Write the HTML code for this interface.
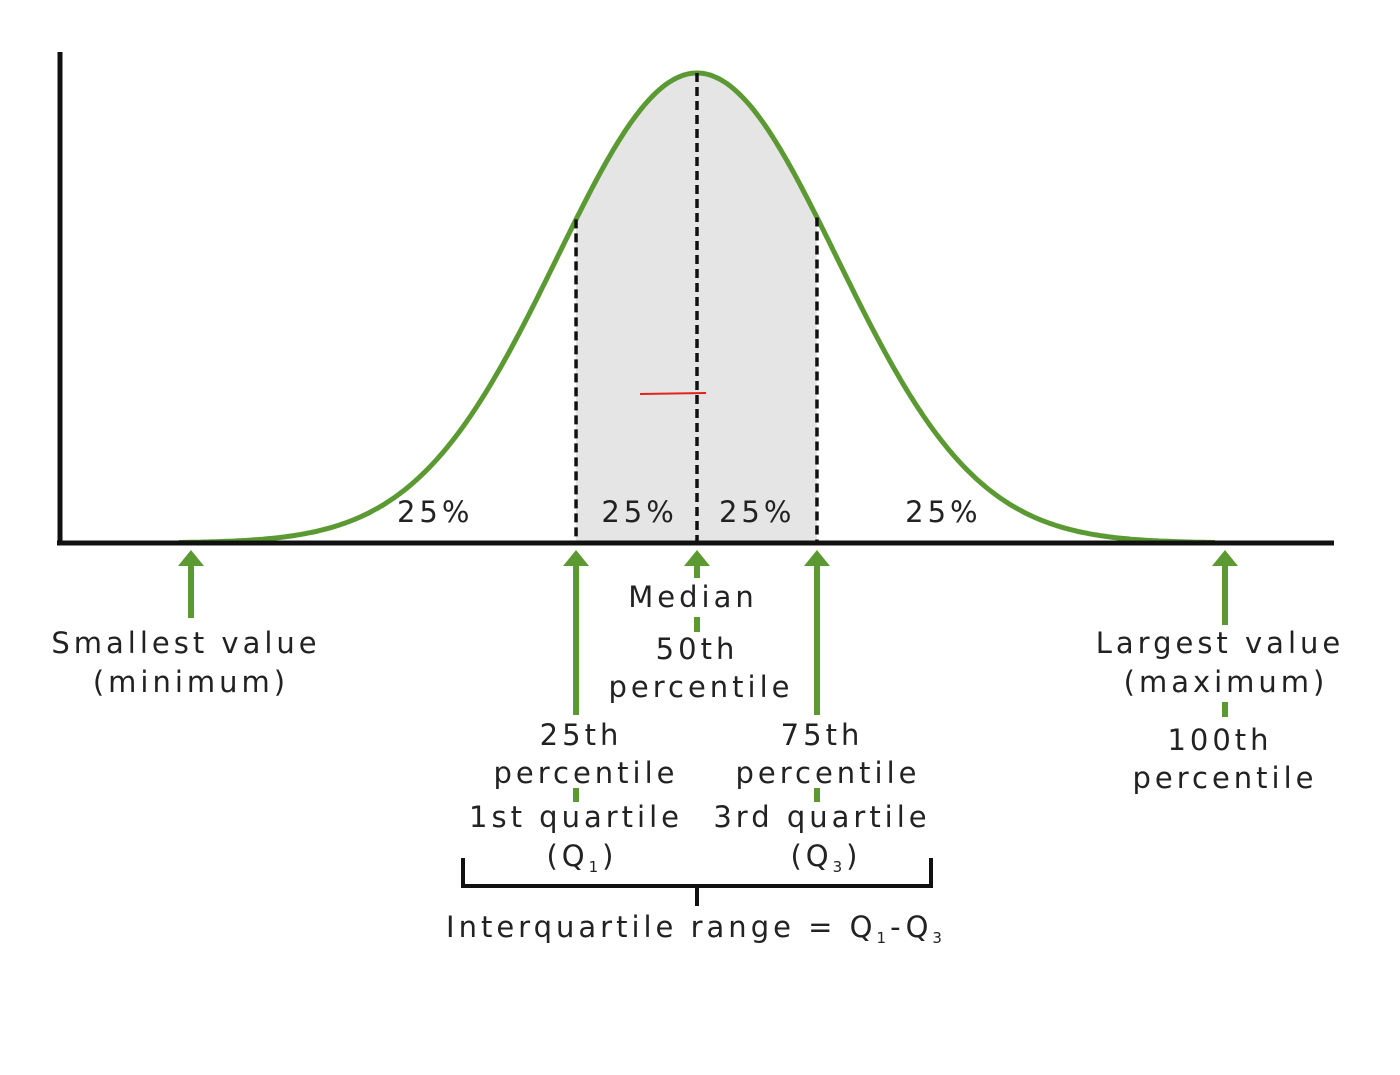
<!DOCTYPE html>
<html><head><meta charset="utf-8"><style>
body{margin:0;background:#fff}
svg text{font-family:"DejaVu Sans","Liberation Sans",sans-serif;font-size:29px;fill:#222;letter-spacing:4px;text-anchor:middle}
</style></head><body>
<svg id="chart" width="1400" height="1070" viewBox="0 0 1400 1070">
<g id="area"></g>
<g id="curve"></g>
<g id="dashes"></g>
<line x1="60" y1="52" x2="60" y2="545" stroke="#111" stroke-width="5"/>
<line x1="57" y1="543" x2="1334" y2="543" stroke="#111" stroke-width="5"/>
<line x1="640" y1="394" x2="706" y2="393" stroke="#e0241b" stroke-width="2"/>
<g id="arrows"></g>
<g id="labels"></g>
<g stroke="#111" stroke-width="4" fill="none">
<polyline points="463,858 463,886 931,886 931,858"/>
<line x1="697" y1="886" x2="697" y2="906"/>
</g>
<text x="696" y="937">Interquartile range = Q<tspan font-size="15" dy="6">1</tspan><tspan dy="-6">-Q</tspan><tspan font-size="15" dy="6">3</tspan></text>
</svg>
<script>
const mean=0, sd=1;
const quartileZ=[-0.864,0,0.857];
const pctLabels=["25%","25%","25%","25%"];
const pctX=[-1.87,-0.41,0.43,1.76];
const NS="http://www.w3.org/2000/svg";
const cx=697, sdPx=140, base=543, peakH=470;
const X=z=>cx+(z-mean)/sd*sdPx;
const Y=z=>base-peakH*Math.exp(-0.5*((z-mean)/sd)**2);
function mk(t,a,p){const e=document.createElementNS(NS,t);for(const k in a)e.setAttribute(k,a[k]);p.appendChild(e);return e;}
let d="";for(let z=-3.7;z<=3.7001;z+=0.02)d+=(d?"L":"M")+X(z).toFixed(1)+","+Y(z).toFixed(1);
const c=mk("path",{d:d,fill:"none",stroke:"#5b9a32","stroke-width":5},document.getElementById("curve"));


let a="M"+X(quartileZ[0])+","+base;for(let z=quartileZ[0];z<=quartileZ[2]+1e-6;z+=0.01)a+="L"+X(z).toFixed(1)+","+Y(z).toFixed(1);a+="L"+X(quartileZ[2])+","+base+"Z";
const ar=mk("path",{d:a,fill:"#e5e5e5"},document.getElementById("area"));


const dn=["q1-dashed-line","median-dashed-line","q3-dashed-line"];
quartileZ.forEach((z,i)=>{const l=mk("line",{x1:X(z),x2:X(z),y1:Y(z),y2:base,stroke:"#111","stroke-width":3.5,"stroke-dasharray":"9 5"},document.getElementById("dashes"));

});
const L=document.getElementById("labels");
pctLabels.forEach((t,i)=>{const e=mk("text",{x:X(pctX[i]),y:522},L);e.textContent=t;

});
const A=document.getElementById("arrows");
function arrow(x,y2,name){const g=mk("g",{fill:"#5b9a32"},A);


mk("rect",{x:x-3,y:560,width:6,height:y2-560},g);mk("polygon",{points:`${x-13},566 ${x+13},566 ${x},550`},g);}
function seg(x,y1,y2){const r=mk("rect",{x:x-3,y:y1,width:6,height:y2-y1,fill:"#5b9a32"},A);

}
arrow(191,618,"min-arrow");arrow(X(quartileZ[0]),715,"q1-arrow");arrow(X(quartileZ[1]),578,"median-arrow");arrow(X(quartileZ[2]),715,"q3-arrow");arrow(1225,625,"max-arrow");
seg(697,617,632);seg(1225,702,717);seg(576,788,802);seg(817,788,802);
const txt=[["Smallest value",186,653],["(minimum)",191,692],["Median",693,607],["50th",697,659],["percentile",701,697],
["Largest value",1220,653],["(maximum)",1226,692],["100th",1220,750],["percentile",1225,788],
["25th",581,745],["percentile",586,783],["1st quartile",576,827],["75th",822,745],["percentile",828,783],["3rd quartile",822,827]];
txt.forEach(([t,x,y])=>{const e=mk("text",{x:x,y:y},L);e.textContent=t;

});
[["1",582],["3",826]].forEach(([s,x])=>{const e=mk("text",{x:x,y:866},L);e.innerHTML=`(Q<tspan font-size="15" dy="6">${s}</tspan><tspan dy="-6">)</tspan>`;

});
</script>
</body></html>
